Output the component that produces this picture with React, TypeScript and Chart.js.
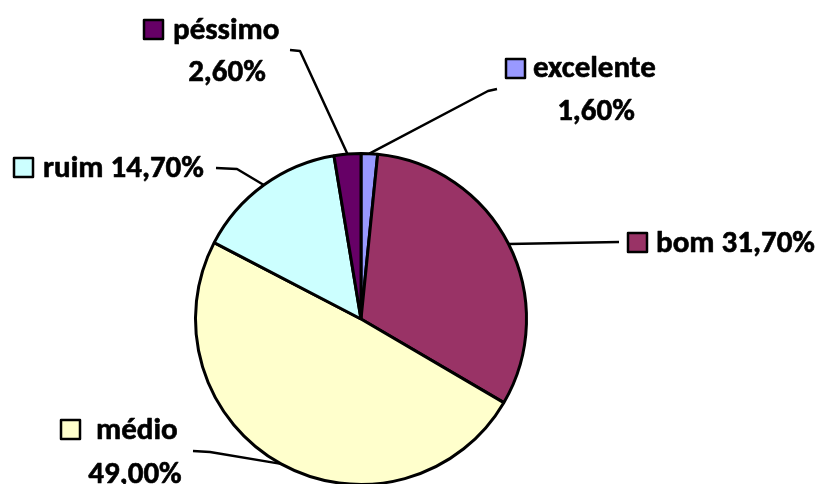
import React, { useEffect, useRef } from "react";
import { Chart, registerables } from "chart.js";

Chart.register(...registerables);

const categories = ["excelente", "bom", "médio", "ruim", "péssimo"];
const values = [1.6, 31.7, 49.0, 14.7, 2.6];
const valueLabels = ["1,60%", "31,70%", "49,00%", "14,70%", "2,60%"];
const colors = ["#9999FF", "#993366", "#FFFFCC", "#CCFFFF", "#660066"];

// label layout (style only): square position, text lines, leader elbow/end
type LabelLayout = {
  sq: [number, number];
  lines: { text: (i: number) => string; x: number; y: number; align: CanvasTextAlign }[];
  elbow: [number, number] | null;
  end: [number, number];
};

const layouts: LabelLayout[] = [
  {
    sq: [505, 58],
    lines: [
      { text: (i) => categories[i], x: 533, y: 77, align: "left" },
      { text: (i) => valueLabels[i], x: 596, y: 120, align: "center" },
    ],
    elbow: [488, 91],
    end: [497, 89],
  },
  {
    sq: [627, 232],
    lines: [{ text: (i) => categories[i] + " " + valueLabels[i], x: 656, y: 252, align: "left" }],
    elbow: null,
    end: [619, 242],
  },
  {
    sq: [60, 419],
    lines: [
      { text: (i) => categories[i], x: 96, y: 439, align: "left" },
      { text: (i) => valueLabels[i], x: 135, y: 483, align: "center" },
    ],
    elbow: [210, 452],
    end: [193, 451],
  },
  {
    sq: [13, 157],
    lines: [{ text: (i) => categories[i] + " " + valueLabels[i], x: 43, y: 177, align: "left" }],
    elbow: [237, 169],
    end: [216, 168],
  },
  {
    sq: [143, 19],
    lines: [
      { text: (i) => categories[i], x: 173, y: 39, align: "left" },
      { text: (i) => valueLabels[i], x: 227, y: 81, align: "center" },
    ],
    elbow: [300, 51],
    end: [290, 50],
  },
];

const labelPlugin = {
  id: "pieLabels",
  afterDraw(chart: any) {
    const ctx = chart.ctx as CanvasRenderingContext2D;
    const meta = chart.getDatasetMeta(0);
    meta.data.forEach((arc: any, i: number) => {
      const lay = layouts[i];
      const p = arc.getProps(["x", "y", "startAngle", "endAngle", "outerRadius"], true);
      const mid = (p.startAngle + p.endAngle) / 2;
      const ax = p.x + Math.cos(mid) * p.outerRadius;
      const ay = p.y + Math.sin(mid) * p.outerRadius;
      ctx.save();
      ctx.strokeStyle = "#000";
      ctx.lineWidth = 2.5;
      ctx.lineJoin = "round";
      ctx.beginPath();
      ctx.moveTo(ax, ay);
      if (lay.elbow) ctx.lineTo(lay.elbow[0], lay.elbow[1]);
      ctx.lineTo(lay.end[0], lay.end[1]);
      ctx.stroke();
      // legend square
      ctx.fillStyle = colors[i];
      ctx.fillRect(lay.sq[0] + 1, lay.sq[1] + 1, 19, 19);
      ctx.lineWidth = 2.5;
      ctx.strokeRect(lay.sq[0] + 1, lay.sq[1] + 1, 19, 19);
      // text
      ctx.fillStyle = "#000";
      ctx.font = "bold 31px Carlito, Lato, sans-serif";
      ctx.textBaseline = "alphabetic";
      ctx.lineWidth = 0.6;
      lay.lines.forEach((ln) => {
        ctx.textAlign = ln.align;
        ctx.fillText(ln.text(i), ln.x, ln.y);
        ctx.strokeText(ln.text(i), ln.x, ln.y);
      });
      ctx.restore();
    });
  },
};

export default function App() {
  const ref = useRef<HTMLCanvasElement>(null);
  useEffect(() => {
    if (!ref.current) return;
    const chart = new Chart(ref.current, {
      type: "pie",
      data: {
        labels: categories,
        datasets: [
          {
            data: values,
            backgroundColor: colors,
            borderColor: "#000",
            borderWidth: 3,
          },
        ],
      },
      options: {
        responsive: false,
        animation: false,
        devicePixelRatio: 1,
        layout: { padding: { left: 194, right: 295, top: 152, bottom: 34 } },
        plugins: {
          legend: { display: false },
          tooltip: { enabled: false },
        },
      },
      plugins: [labelPlugin],
    });
    return () => chart.destroy();
  }, []);
  return (
    <div
      style={{
        position: "fixed",
        left: 0,
        top: 0,
        width: 823,
        height: 484,
        overflow: "hidden",
        background: "#fff",
      }}
    >
      <canvas ref={ref} width={823} height={520} style={{ display: "block" }} />
    </div>
  );
}
